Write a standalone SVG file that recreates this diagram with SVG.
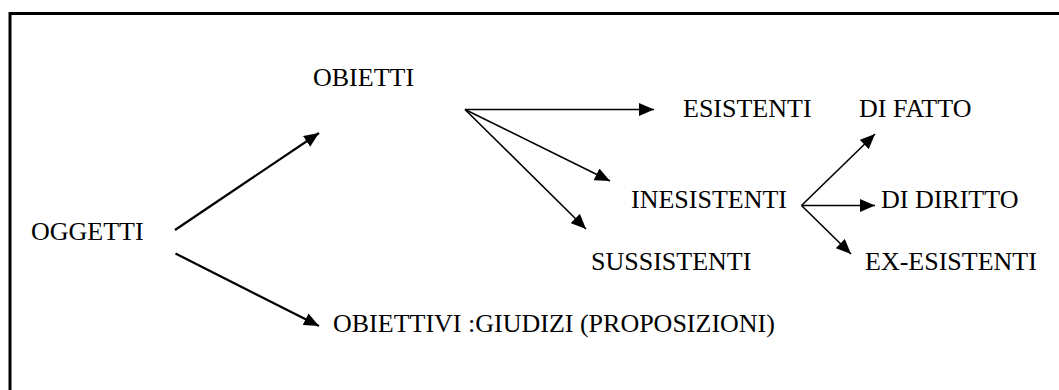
<svg xmlns="http://www.w3.org/2000/svg" width="1059" height="390" viewBox="0 0 1059 390">
<style>
text{font-family:"Liberation Serif","Times New Roman",serif;font-size:26px;fill:#000}
.c line{stroke:#000;stroke-width:1.6;marker-end:url(#ah)}
.c line.thick{stroke-width:2.2}
.frame{fill:none;stroke:#000;stroke-width:3}
</style>
<defs>
<marker id="ah" markerUnits="userSpaceOnUse" markerWidth="15" markerHeight="13" refX="15" refY="6.5" orient="auto">
<path d="M0,0 L15,6.5 L0,13 z" fill="#000"/>
</marker>
</defs>
<rect class="frame" x="10" y="13.5" width="1060" height="390"/>
<g id="oggetti"><text x="31" y="240">OGGETTI</text></g>
<g id="obietti"><text x="313" y="86">OBIETTI</text></g>
<g id="obiettivi"><text x="333" y="332">OBIETTIVI :GIUDIZI (PROPOSIZIONI)</text></g>
<g id="esistenti"><text x="683" y="117">ESISTENTI</text></g>
<g id="di-fatto"><text x="859" y="117">DI FATTO</text></g>
<g id="inesistenti"><text x="631" y="208">INESISTENTI</text></g>
<g id="di-diritto"><text x="881" y="208">DI DIRITTO</text></g>
<g id="sussistenti"><text x="591" y="270">SUSSISTENTI</text></g>
<g id="ex-esistenti"><text x="865" y="270">EX-ESISTENTI</text></g>
<g class="c" id="connectors">
<line class="thick" x1="175" y1="230" x2="319" y2="133"/>
<line class="thick" x1="175.5" y1="253.5" x2="319" y2="326"/>
<line x1="465" y1="109.5" x2="654" y2="109.5"/>
<line x1="465" y1="109.5" x2="610" y2="181"/>
<line x1="465" y1="109.5" x2="586" y2="229"/>
<line x1="801.5" y1="205.5" x2="875" y2="134"/>
<line x1="801.5" y1="205.5" x2="875" y2="205.5"/>
<line x1="801.5" y1="205.5" x2="851" y2="254"/>
</g>
</svg>
